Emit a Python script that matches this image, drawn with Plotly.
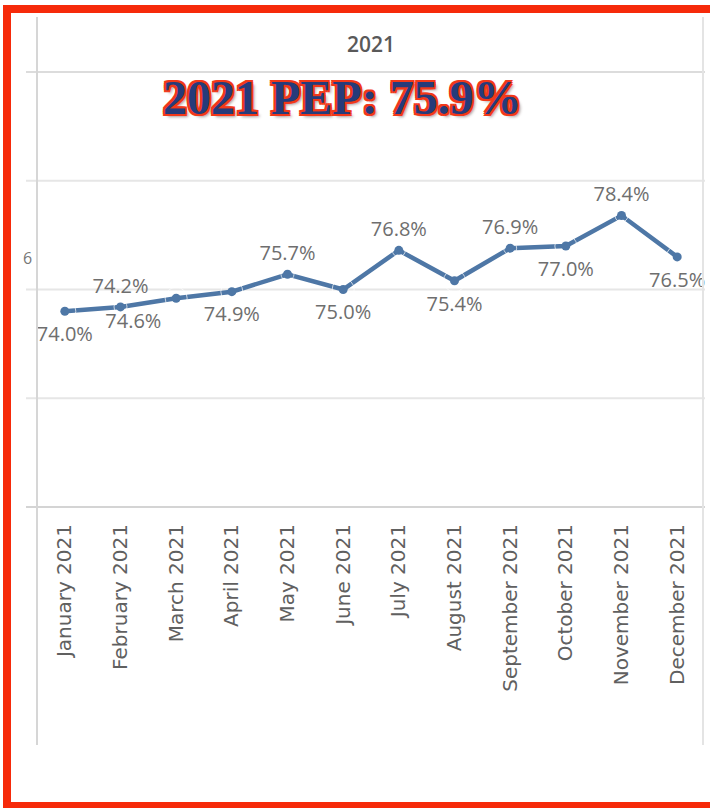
import plotly.graph_objects as go

# ---- data ----
months = ["January 2021", "February 2021", "March 2021", "April 2021", "May 2021",
          "June 2021", "July 2021", "August 2021", "September 2021", "October 2021",
          "November 2021", "December 2021"]
pep = [74.0, 74.2, 74.6, 74.9, 75.7, 75.0, 76.8, 75.4, 76.9, 77.0, 78.4, 76.5]
label_pos = ["bottom center", "top center", "bottom left", "bottom center", "top center",
             "bottom center", "top center", "bottom center", "top center", "bottom center",
             "top center", "bottom center"]
grid_vals = [70, 75, 80]
panel_title = "2021"
headline = "2021 PEP: 75.9%"

# ---- geometry (pixels) ----
W, H = 710, 808
L, R, T, B = 37, 705, 72, 507


def px(x):
    return (x - L) / (R - L)


def py(y):
    return (B - y) / (B - T)


# spacer marker size per label position (style only)
spacer = [13 if p.startswith("top") else 22 for p in label_pos]

fig = go.Figure()
fig.add_trace(go.Scatter(
    x=months, y=pep, mode="lines+markers",
    line=dict(color="#4e77a6", width=4.5),
    marker=dict(color="#4e77a6", size=9),
    cliponaxis=False, hoverinfo="skip",
))
fig.add_trace(go.Scatter(
    x=months, y=pep, mode="markers+text",
    marker=dict(color="rgba(0,0,0,0)", size=spacer),
    text=[f"{v:.1f}%" for v in pep],
    textposition=label_pos,
    textfont=dict(family="Open Sans", size=20, color="#6e6e6e"),
    cliponaxis=False, hoverinfo="skip",
))

shapes = []
for g in grid_vals:
    shapes.append(dict(type="line", xref="paper", yref="y", x0=px(26), x1=px(705),
                       y0=g, y1=g, line=dict(color="#e6e6e6", width=2), layer="below"))
shapes.append(dict(type="line", xref="paper", yref="paper", x0=px(26), x1=px(705),
                   y0=0, y1=0, line=dict(color="#d4d4d4", width=2)))
shapes.append(dict(type="line", xref="paper", yref="paper", x0=px(26), x1=px(705),
                   y0=1, y1=1, line=dict(color="#dcdcdc", width=2)))
shapes.append(dict(type="line", xref="paper", yref="paper", x0=px(37), x1=px(37),
                   y0=py(17), y1=py(745), line=dict(color="#d6d6d6", width=2)))
shapes.append(dict(type="line", xref="paper", yref="paper", x0=px(703), x1=px(703),
                   y0=py(17), y1=py(745), line=dict(color="#e4e4e4", width=2)))
shapes.append(dict(type="rect", xref="paper", yref="paper", x0=px(7), x1=px(716),
                   y0=py(9), y1=py(806), line=dict(color="#f62a0a", width=8),
                   fillcolor="rgba(0,0,0,0)"))

red = "#f2381a"
annotations = [
    dict(text=panel_title, xref="paper", yref="paper", x=px(371), y=py(44),
         showarrow=False, xanchor="center", yanchor="middle",
         font=dict(family="Open Sans", size=21, color="#595959", weight=600)),
    dict(text=headline, xref="paper", yref="paper", x=px(342), y=py(97),
         showarrow=False, xanchor="center", yanchor="middle",
         font=dict(family="Liberation Serif", size=48, color="#263b7a", weight=700,
                   shadow=f"-2px -2px 0 {red}, 2px -2px 0 {red}, -2px 2px 0 {red}, "
                          f"2px 2px 0 {red}, 0 -2px 0 {red}, 0 2px 0 {red}, "
                          f"-2px 0 0 {red}, 2px 0 0 {red}, 3px 3px 3px rgba(60,30,30,0.45)")),
    dict(text="6", xref="paper", yref="paper", x=px(34), y=py(258),
         showarrow=False, xanchor="right", yanchor="middle",
         font=dict(family="Open Sans", size=16, color="#777777")),
]

fig.update_layout(
    width=W, height=H,
    margin=dict(l=L, r=W - R, t=T, b=H - B, pad=0),
    paper_bgcolor="white", plot_bgcolor="white",
    showlegend=False,
    shapes=shapes, annotations=annotations,
    xaxis=dict(type="category", range=[-0.5, len(months) - 0.5], showgrid=False,
               zeroline=False, showline=False, tickangle=-90,
               ticks="outside", ticklen=8, tickcolor="rgba(0,0,0,0)",
               tickfont=dict(family="DejaVu Sans", size=20, color="#606060")),
    yaxis=dict(range=[65, 85], showgrid=False, zeroline=False, showline=False,
               showticklabels=False, ticks=""),
)

fig.write_html("out.html", config={"displayModeBar": False},
               post_script="document.body.style.margin='0';")
